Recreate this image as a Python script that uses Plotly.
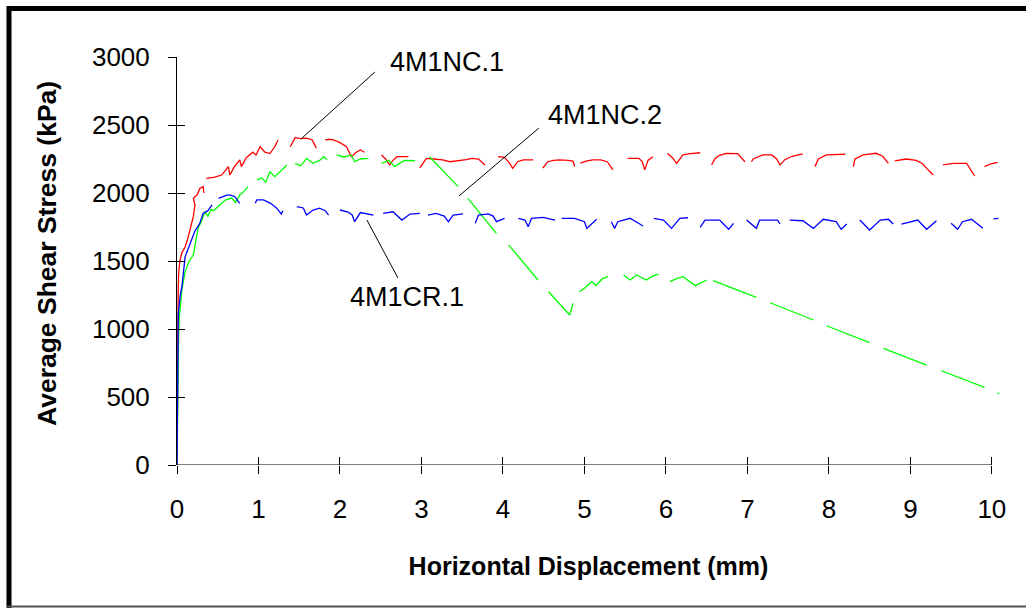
import plotly.graph_objects as go

# ---------------- data ----------------
# 4M1NC.1 (red) - segments of the recorded curve
red_x = [
    [0, 0.003, 0.005, 0.008, 0.01, 0.015, 0.02, 0.03, 0.037, 0.06, 0.1, 0.13, 0.16, 0.2, 0.22, 0.2, 0.25, 0.28, 0.32, 0.33],
    [0.36, 0.45, 0.55, 0.6, 0.63, 0.65, 0.7, 0.77, 0.79, 0.85, 0.93, 0.97, 1.02, 1.08, 1.14, 1.2, 1.24],
    [1.39, 1.42, 1.45, 1.52, 1.59, 1.66, 1.71],
    [1.82, 1.87, 1.92, 2.0, 2.08, 2.14, 2.2, 2.25, 2.3],
    [2.51, 2.56, 2.61, 2.65, 2.70, 2.77, 2.84],
    [2.98, 3.06, 3.15, 3.26, 3.35, 3.45, 3.55, 3.62, 3.7, 3.78],
    [3.94, 4.02, 4.08, 4.12, 4.18, 4.25, 4.37],
    [4.49, 4.55, 4.62, 4.70, 4.8, 4.86, 4.88],
    [4.95, 5.02, 5.10, 5.2, 5.28, 5.35],
    [5.53, 5.6, 5.67, 5.71, 5.74, 5.78, 5.84],
    [6.02, 6.08, 6.13, 6.21, 6.3, 6.42],
    [6.56, 6.6, 6.65, 6.74, 6.88, 6.97],
    [7.05, 7.07, 7.19, 7.3, 7.36, 7.40, 7.46, 7.55, 7.68],
    [7.83, 7.87, 7.97, 8.08, 8.20],
    [8.30, 8.32, 8.42, 8.58, 8.66, 8.73],
    [8.81, 8.95, 9.07, 9.15, 9.2, 9.28],
    [9.40, 9.53, 9.69, 9.75, 9.79],
    [9.91, 9.98, 10.07],
]
red_y = [
    [0, 400, 800, 1000, 1100, 1300, 1410, 1450, 1507, 1560, 1605, 1660, 1728, 1826, 1912, 1960, 1990, 2034, 2047, 2000],
    [2108, 2115, 2132, 2170, 2194, 2132, 2190, 2243, 2194, 2260, 2300, 2280, 2340, 2300, 2290, 2340, 2390],
    [2340, 2380, 2407, 2400, 2404, 2390, 2330],
    [2390, 2395, 2390, 2370, 2340, 2267, 2300, 2316, 2300],
    [2279, 2250, 2206, 2240, 2267, 2265, 2267],
    [2184, 2255, 2250, 2243, 2230, 2235, 2245, 2255, 2250, 2206],
    [2267, 2262, 2220, 2181, 2230, 2243, 2243],
    [2184, 2230, 2240, 2243, 2240, 2235, 2194],
    [2220, 2235, 2243, 2243, 2230, 2170],
    [2255, 2255, 2255, 2230, 2170, 2240, 2267],
    [2290, 2260, 2218, 2280, 2290, 2296],
    [2206, 2250, 2275, 2292, 2290, 2230],
    [2230, 2250, 2280, 2280, 2250, 2206, 2245, 2270, 2287],
    [2194, 2250, 2280, 2285, 2285],
    [2194, 2250, 2280, 2292, 2270, 2218],
    [2237, 2250, 2240, 2215, 2181, 2132],
    [2206, 2218, 2218, 2157, 2125],
    [2194, 2213, 2226],
]

# 4M1NC.2 (green)
green_x = [
    [0, 0.004, 0.008, 0.012, 0.02, 0.03, 0.06, 0.1, 0.15, 0.2, 0.23, 0.26, 0.3, 0.34, 0.38, 0.42, 0.45, 0.5, 0.55, 0.6, 0.64, 0.67, 0.72, 0.77, 0.82, 0.87],
    [0.98, 1.04, 1.09, 1.14, 1.2, 1.28, 1.35],
    [1.45, 1.52, 1.59, 1.67, 1.75, 1.80, 1.84],
    [1.96, 2.05, 2.14, 2.18, 2.25, 2.35],
    [2.51, 2.6, 2.67, 2.79, 2.92],
    [3.10, 3.45],
    [3.57, 3.92],
    [4.07, 4.43],
    [4.56, 4.82, 4.86],
    [4.94, 5.0, 5.09, 5.14, 5.22, 5.29],
    [5.48, 5.56, 5.64, 5.76, 5.84, 5.91],
    [6.05, 6.13, 6.21, 6.36, 6.50],
    [6.58, 7.11],
    [7.28, 7.81],
    [7.97, 8.50],
    [8.67, 9.20],
    [9.38, 9.91],
    [10.07, 10.09],
]
green_y = [
    [0, 250, 500, 750, 950, 1100, 1287, 1420, 1500, 1544, 1650, 1743, 1790, 1863, 1830, 1880, 1870, 1900, 1926, 1950, 1960, 1963, 1930, 1985, 2010, 2047],
    [2096, 2110, 2080, 2157, 2120, 2170, 2206],
    [2218, 2200, 2255, 2218, 2240, 2267, 2245],
    [2280, 2265, 2280, 2230, 2250, 2255],
    [2218, 2240, 2194, 2240, 2237],
    [2267, 2047],
    [1961, 1703],
    [1618, 1360],
    [1274, 1103, 1189],
    [1274, 1300, 1348, 1320, 1370, 1385],
    [1397, 1360, 1397, 1360, 1390, 1404],
    [1348, 1370, 1385, 1319, 1360],
    [1355, 1232],
    [1193, 1066],
    [1024, 900],
    [858, 735],
    [693, 571],
    [530, 525],
]

# 4M1CR.1 (blue)
blue_x = [
    [0, 0.004, 0.008, 0.012, 0.016, 0.04, 0.06, 0.1, 0.14, 0.18, 0.22, 0.28, 0.32, 0.38, 0.43],
    [0.51, 0.56, 0.61, 0.66, 0.71, 0.77],
    [0.96, 0.98, 1.06, 1.15, 1.22, 1.28, 1.30],
    [1.47, 1.55, 1.59, 1.67, 1.75, 1.82, 1.86],
    [2.0, 2.1, 2.15, 2.18, 2.25, 2.41],
    [2.53, 2.65, 2.76, 2.86, 2.98],
    [3.08, 3.18, 3.28, 3.33, 3.39, 3.51],
    [3.66, 3.70, 3.82, 3.88, 3.92, 4.02],
    [4.19, 4.27, 4.31, 4.35, 4.49, 4.64],
    [4.72, 4.88, 5.0, 5.03, 5.15],
    [5.33, 5.37, 5.41, 5.56, 5.72],
    [5.85, 5.97, 6.07, 6.17, 6.27],
    [6.42, 6.48, 6.66, 6.77, 6.83],
    [6.99, 7.11, 7.15, 7.37, 7.40],
    [7.52, 7.68, 7.81, 7.93, 8.09, 8.15, 8.22],
    [8.38, 8.50, 8.63, 8.73, 8.79],
    [8.89, 9.03, 9.09, 9.20, 9.32],
    [9.50, 9.58, 9.64, 9.75, 9.89],
    [10.02, 10.08],
]
blue_y = [
    [0, 400, 700, 950, 1115, 1250, 1311, 1532, 1600, 1667, 1720, 1777, 1850, 1870, 1912],
    [1961, 1975, 1985, 1985, 1973, 1924],
    [1924, 1949, 1949, 1924, 1890, 1846, 1870],
    [1900, 1890, 1838, 1875, 1888, 1870, 1838],
    [1875, 1860, 1838, 1789, 1856, 1838],
    [1850, 1862, 1801, 1845, 1850],
    [1838, 1850, 1830, 1789, 1838, 1846],
    [1777, 1838, 1846, 1830, 1789, 1814],
    [1814, 1801, 1752, 1814, 1821, 1801],
    [1814, 1814, 1789, 1740, 1807],
    [1789, 1740, 1789, 1814, 1757],
    [1814, 1801, 1740, 1814, 1818],
    [1748, 1801, 1801, 1733, 1777],
    [1801, 1740, 1801, 1801, 1772],
    [1801, 1796, 1740, 1807, 1789, 1733, 1772],
    [1801, 1728, 1801, 1807, 1772],
    [1772, 1789, 1801, 1733, 1796],
    [1777, 1733, 1789, 1807, 1740],
    [1809, 1814],
]

series_names = ["4M1NC.1", "4M1NC.2", "4M1CR.1"]
series_colors = ["#FF0000", "#00FF00", "#0000FF"]

x_ticks = [0, 1, 2, 3, 4, 5, 6, 7, 8, 9, 10]
y_ticks = [0, 500, 1000, 1500, 2000, 2500, 3000]

x_title = "Horizontal Displacement (mm)"
y_title = "Average Shear Stress (kPa)"

# label placement (text position, leader line from -> to) in data units
label_text = ["4M1NC.1", "4M1NC.2", "4M1CR.1"]
label_pos = [(2.59, 2963), (4.53, 2574), (2.10, 1235)]
leader_lines = [((2.429, 2890), (1.521, 2397)),
                ((4.442, 2478), (3.460, 1978)),
                ((2.331, 1801), (2.712, 1375))]


def join(segs):
    out = []
    for i, s in enumerate(segs):
        if i:
            out.append(None)
        out.extend(s)
    return out


FONT = "Liberation Sans, Arial, sans-serif"

fig = go.Figure()
for name, col, xs, ys in zip(series_names, series_colors,
                             [red_x, green_x, blue_x], [red_y, green_y, blue_y]):
    fig.add_trace(go.Scatter(x=join(xs), y=join(ys), mode="lines", name=name,
                             line=dict(color=col, width=1.3), connectgaps=False,
                             showlegend=False, hoverinfo="skip"))

# invisible trace to carry the overlay axes (inside half of the crossing ticks)
fig.add_trace(go.Scatter(x=[None], y=[None], xaxis="x2", yaxis="y2",
                         showlegend=False, hoverinfo="skip"))

xr = [0, 10.1]
yr = [0, 3000]
fig.update_layout(
    width=1026, height=608,
    margin=dict(l=177, r=26, t=57, b=143),
    paper_bgcolor="white", plot_bgcolor="white",
    font=dict(family=FONT, color="black"),
    xaxis=dict(range=xr, tickvals=x_ticks, ticks="outside", ticklen=8, tickwidth=1,
               tickcolor="black", showline=False, showgrid=False, zeroline=False,
               tickfont=dict(size=26, family=FONT), ticklabelstandoff=13,
               title=dict(text="<b>" + x_title + "</b>",
                          font=dict(size=25, family=FONT), standoff=34)),
    yaxis=dict(range=yr, tickvals=y_ticks, ticks="outside", ticklen=8, tickwidth=1,
               tickcolor="black", showline=True, linecolor="black", linewidth=1,
               showgrid=False, zeroline=False,
               tickfont=dict(size=26, family=FONT), ticklabelstandoff=13),
    xaxis2=dict(range=xr, overlaying="x", anchor="y", side="bottom", tickvals=x_ticks,
                ticks="inside", ticklen=8, tickwidth=1, tickcolor="black",
                showticklabels=False, showline=False, showgrid=False, zeroline=False),
    yaxis2=dict(range=yr, overlaying="y", anchor="x", side="left", tickvals=y_ticks,
                ticks="inside", ticklen=8, tickwidth=1, tickcolor="black",
                showticklabels=False, showline=False, showgrid=False, zeroline=False),
)

# x axis line from 0 to 10
fig.add_shape(type="line", xref="x", yref="y", x0=x_ticks[0], x1=x_ticks[-1], y0=0, y1=0,
              line=dict(color="black", width=1))

# leader lines and labels
for (p0, p1), txt, (tx, ty) in zip(leader_lines, label_text, label_pos):
    fig.add_shape(type="line", xref="x", yref="y", x0=p0[0], y0=p0[1], x1=p1[0], y1=p1[1],
                  line=dict(color="black", width=1))
    fig.add_annotation(x=tx, y=ty, xref="x", yref="y", text=txt, showarrow=False,
                       xanchor="left", yanchor="middle",
                       font=dict(size=27, family=FONT, color="black"))

# pixel -> paper helpers for the frame and the y title
W, L, T, H = 823.0, 177.0, 57.0, 408.0
def px(v):
    return (v - L) / W
def py(v):
    return (T + H - v) / H

# y-axis title (placed like the reference, slightly above the axis centre)
fig.add_annotation(x=px(47), y=py(254), xref="paper", yref="paper",
                   text="<b>" + y_title + "</b>", textangle=-90, showarrow=False,
                   xanchor="center", yanchor="middle",
                   font=dict(size=26.5, family=FONT, color="black"))

# frame around the chart (thick left/top, thin grey bottom)
fig.add_shape(type="line", xref="paper", yref="paper", x0=px(7), x1=px(1026), y0=py(8.5), y1=py(8.5),
              line=dict(color="black", width=5))
fig.add_shape(type="line", xref="paper", yref="paper", x0=px(9), x1=px(9), y0=py(6), y1=py(608),
              line=dict(color="black", width=5))
fig.add_shape(type="line", xref="paper", yref="paper", x0=px(7), x1=px(1026), y0=py(606.5), y1=py(606.5),
              line=dict(color="#505050", width=2))

fig.write_html("out.html")
